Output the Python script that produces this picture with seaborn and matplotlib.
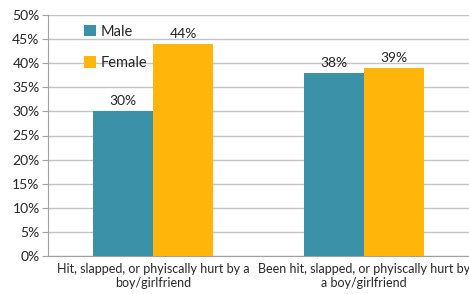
import pandas as pd
import matplotlib.pyplot as plt
import seaborn as sns

# DATA

categories = [
    "Hit, slapped, or phyiscally hurt by a\nboy/girlfriend",
    "Been hit, slapped, or phyiscally hurt by\na boy/girlfriend",
]
male = [30, 38]
female = [44, 39]
groups = ["Male", "Female"]
colors = ["#3A91A8", "#FFB50A"]

df = pd.DataFrame({
    "category": categories * 2,
    "value": male + female,
    "group": ["Male"] * 2 + ["Female"] * 2,
})

sns.set_style("white")
plt.rcParams["font.family"] = ["Lato", "DejaVu Sans"]

fig = plt.figure(figsize=(4.69, 2.94), dpi=100)
ax = fig.add_axes([48 / 469, 1 - 256 / 294, 1 - 48 / 469, (256 - 15) / 294])

sns.barplot(data=df, x="category", y="value", hue="group", hue_order=groups,
            palette=colors, width=0.57, gap=0, saturation=1, linewidth=0,
            ax=ax, zorder=3)

for cont in ax.containers:
    ax.bar_label(cont, labels=[f"{v:.0f}%" for v in cont.datavalues],
                 padding=3, fontsize=10, color="#222222")

ax.set_ylim(0, 50)
ax.set_yticks(range(0, 51, 5))
ax.set_yticklabels([f"{t}%" for t in range(0, 51, 5)], fontsize=10)
ax.set_xlim(-0.5, 1.5)
ax.set_xticks([0, 1])
ax.set_xticklabels(categories, fontsize=9)
ax.set_xticks([-0.5, 0.5, 1.5], minor=True)
ax.tick_params(axis="x", which="major", length=0, pad=5)
ax.tick_params(axis="x", which="minor", length=4, color="#a0a0a0", direction="out")
ax.tick_params(axis="y", length=4, color="#a0a0a0", direction="out", left=True, pad=2)
ax.set_xlabel("")
ax.set_ylabel("")
ax.grid(axis="y", color="#c4c4c4", linewidth=1, zorder=0)

for side in ["top", "right"]:
    ax.spines[side].set_visible(False)
for side in ["left", "bottom"]:
    ax.spines[side].set_color("#a0a0a0")

ax.legend(title=None, frameon=False, loc="upper left", bbox_to_anchor=(0.055, 1.015),
          fontsize=10.5, handlelength=0.8, handleheight=0.8, handletextpad=0.3,
          labelspacing=1.2)

fig.savefig("out.png", dpi=100)
